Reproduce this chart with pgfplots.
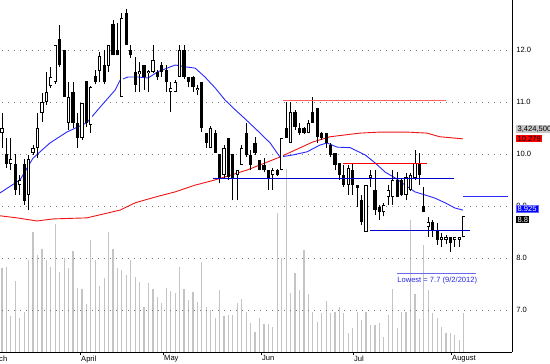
\documentclass[border=0pt]{standalone}
\usepackage{pgfplots}
\pgfplotsset{compat=1.18}
\usepackage{pgfplotstable}
\usepackage{fontspec}
\setmainfont{Liberation Sans}

\definecolor{volgray}{RGB}{196,196,196}
\definecolor{mablue}{RGB}{40,40,255}
\definecolor{mared}{RGB}{240,20,20}
\definecolor{hlred}{RGB}{255,95,95}
\definecolor{hlblue}{RGB}{0,0,205}
\definecolor{lowblue}{RGB}{40,40,230}
\definecolor{gridgray}{RGB}{120,120,120}

% up (hollow) candles: index, open, high, low, close
\pgfplotstableread{
i O H L C
0 10.40 10.79 10.11 10.50
2 9.81 10.31 9.69 9.90
4 9.40 9.59 9.21 9.50
6 9.21 9.98 8.92 9.90
7 10.02 10.17 9.98 10.11
8 10.11 10.79 9.92 10.50
9 10.79 11.17 10.61 11.00
10 11.00 11.58 10.94 11.19
11 11.31 11.67 11.27 11.48
12 11.38 12.10 11.34 12.10
15 10.60 11.38 10.46 11.10
18 10.31 10.98 10.27 10.98
20 10.56 11.31 10.40 11.29
22 11.60 11.96 11.38 11.88
24 11.69 12.10 11.58 12.10
27 11.10 12.71 11.10 12.61
31 11.53 11.77 11.19 11.59
33 11.55 11.61 11.19 11.60
34 11.58 12.10 11.56 11.81
38 11.19 11.38 10.81 11.27
39 11.19 11.42 11.19 11.38
40 11.48 12.10 11.48 12.00
44 11.22 11.33 11.13 11.27
47 10.11 10.54 10.11 10.50
50 9.60 10.17 9.54 10.11
53 9.60 9.69 9.11 9.69
54 9.79 10.17 9.79 10.11
61 9.60 9.73 9.31 9.69
63 9.69 10.31 9.69 10.31
65 10.21 11.00 10.21 10.81
69 10.40 10.65 10.40 10.60
78 9.40 9.79 9.21 9.73
82 8.50 9.40 8.50 9.40
83 9.54 9.69 9.36 9.60
86 8.88 9.06 8.80 9.02
87 9.17 9.40 9.02 9.31
88 9.17 9.69 9.02 9.50
91 9.21 9.63 9.11 9.56
92 9.31 9.63 9.29 9.60
93 9.54 10.08 9.50 9.83
96 8.60 8.79 8.40 8.69
99 8.34 8.48 8.21 8.40
100 8.34 8.44 8.27 8.40
102 8.34 8.40 8.21 8.40
103 8.34 8.40 8.21 8.40
104 8.40 8.81 8.40 8.81
}\upcandles

% down (filled) candles: index, open, high, low, close
\pgfplotstableread{
i O H L C
1 10.00 10.31 9.73 9.81
3 9.81 10.00 9.21 9.31
5 9.81 9.90 9.02 9.10
13 12.21 12.48 11.67 11.71
14 12.00 12.00 11.10 11.10
16 11.19 11.38 10.50 10.60
17 10.60 10.79 10.11 10.31
19 11.40 11.40 10.52 10.60
21 11.50 11.61 11.34 11.38
23 11.71 12.00 11.34 11.38
25 12.50 12.58 11.90 11.90
26 12.00 12.52 11.90 11.90
28 12.71 12.79 12.10 12.10
29 12.00 12.10 11.85 11.90
30 11.58 11.86 11.19 11.33
32 11.71 11.71 11.23 11.48
35 11.58 11.61 11.42 11.48
36 11.71 11.77 11.48 11.58
37 11.61 11.71 11.19 11.38
41 12.00 12.10 11.45 11.48
42 11.48 11.48 11.29 11.38
43 11.48 11.50 11.19 11.29
45 11.38 11.38 10.42 10.50
46 10.40 10.40 10.11 10.21
48 10.40 10.46 10.02 10.02
49 10.00 10.00 9.44 9.54
51 10.31 10.31 9.50 9.56
52 10.00 10.00 9.11 9.54
55 10.40 10.60 9.94 9.98
56 9.98 10.08 9.69 9.79
57 10.21 10.33 9.98 10.02
58 9.88 9.88 9.69 9.69
59 9.79 9.92 9.65 9.69
60 9.69 9.69 9.31 9.52
62 9.69 9.71 9.58 9.60
64 10.50 11.00 10.31 10.31
66 10.81 10.85 10.46 10.52
67 10.50 10.60 10.36 10.40
68 10.50 10.52 10.38 10.40
70 10.81 11.10 10.60 10.60
71 10.88 10.88 10.21 10.33
72 10.40 10.42 10.27 10.31
73 10.40 10.40 10.11 10.21
74 10.17 10.21 9.94 9.98
75 10.02 10.02 9.69 9.79
76 9.83 9.83 9.50 9.60
77 9.60 9.79 9.36 9.40
79 9.69 9.83 9.21 9.40
80 9.40 9.40 8.98 9.35
81 9.11 9.21 8.63 8.69
84 9.31 9.69 8.83 8.92
85 8.98 9.02 8.73 8.88
89 9.50 9.65 9.17 9.17
90 9.50 9.52 9.19 9.21
94 9.83 10.02 9.40 9.60
95 9.00 9.36 8.88 8.88
97 8.69 8.73 8.40 8.54
98 8.54 8.67 8.25 8.35
101 8.40 8.40 8.11 8.29
}\downcandles

% volume (thousands)
\pgfplotstableread{
i V
0 7392
1 7480
2 3168
3 6248
4 2992
5 3520
6 8096
7 10560
8 8536
9 9064
10 8096
11 7480
12 11264
13 7040
14 8272
15 7392
16 8888
17 5632
18 5544
19 4224
20 9856
21 8096
22 5808
23 6512
24 10560
25 9064
26 7392
27 7216
28 6776
29 8096
30 6600
31 6160
32 3960
33 6072
34 5544
35 4840
36 4312
37 5632
38 5368
39 5192
40 7480
41 5544
42 4576
43 5280
44 4400
45 7920
46 3960
47 3696
48 2992
49 5456
50 3168
51 3256
52 3256
53 4312
54 4664
55 3520
56 2552
57 1760
58 2992
59 2464
60 2464
61 2200
62 12232
63 8272
64 16104
65 5192
66 6952
67 5456
68 8976
69 5104
70 3520
71 2640
72 3432
73 4488
74 3432
75 3520
76 3960
77 3432
78 1672
79 2112
80 3520
81 2816
82 3520
83 2376
84 2376
85 2552
86 1320
87 3256
88 5544
89 2112
90 3520
91 3520
92 11616
93 5104
94 2904
95 9416
96 5456
97 3432
98 2992
99 2200
100 1672
101 1672
102 1496
103 1056
104 3432
}\volume

\pgfplotstableread{
i M
-0.45 9.25
4.05 9.50
7.0 9.92
10.8 10.21
14.6 10.42
19.1 10.60
22.1 10.90
25.5 11.23
26.6 11.42
28.4 11.48
30.6 11.48
32.9 11.46
35.1 11.58
39.0 11.71
41.7 11.67
43.5 11.65
45.7 11.48
48.0 11.27
50.2 11.04
52.5 10.85
54.3 10.71
57.4 10.46
60.4 10.21
62.6 9.94
65.5 9.98
68.7 10.04
71.6 10.17
73.2 10.21
75.5 10.13
78.4 10.12
81.8 9.98
84.0 9.83
86.3 9.65
88.5 9.54
90.8 9.40
93.0 9.27
95.3 9.21
97.5 9.15
99.8 9.06
102.0 8.96
103.8 8.92
}\mafast

\pgfplotstableread{
i M
-0.45 8.81
3.4 8.77
7.9 8.71
11.5 8.75
19.1 8.77
22.1 8.83
26.6 8.92
30.0 9.06
34.5 9.17
39.0 9.27
43.5 9.40
48.0 9.50
55.2 9.69
62.6 9.94
70.0 10.23
73.9 10.33
80.6 10.40
85.1 10.42
91.2 10.42
95.7 10.40
98.6 10.33
103.8 10.29
}\maslow

\newcommand{\lblfont}{\fontsize{7.6}{8}\selectfont}
\pgfplotsset{candle/.style={only marks, mark=*, mark size=0pt, mark options={draw=none, fill=none},
  error bars/.cd, y dir=plus, y explicit, error mark=none}}

\begin{document}
\begin{tikzpicture}
% volume panel
\begin{axis}[
  at={(0,0)}, anchor=south west,
  scale only axis, width=545.68bp, height=369.72bp,
  xmin=-8, xmax=114.9, ymin=0, ymax=32535,
  hide axis,
]
\addplot[ycomb, volgray, line width=1.2bp] table[x=i, y=V] {\volume};
\end{axis}
% price panel
\begin{axis}[
  at={(0,0)}, anchor=south west,
  scale only axis, width=545.68bp, height=369.72bp,
  xmin=-8, xmax=114.9, ymin=6.19, ymax=13.3,
  clip=false,
  axis x line*=bottom, axis y line*=right,
  axis line style={black, line width=1bp},
  ytick={7,8,9,10,11,12,13},
  ymajorgrids,
  major grid style={gridgray, line width=0.8bp, dash pattern=on 0.9bp off 5.1bp},
  ytick style={draw=none},
  xtick={-3.83,17.57,36.26,58.33,79.05,101.13},
  xticklabels={March,April,May,Jun,Jul,August},
  xtick style={black, line width=0.8bp},
  tick align=outside, major tick length=3bp,
  /pgf/number format/assume math mode=true,
  yticklabel style={/pgf/number format/fixed, /pgf/number format/fixed zerofill, /pgf/number format/precision=1, font=\lblfont, inner sep=0pt, xshift=1bp},
  xticklabel style={font=\lblfont, anchor=north west, inner sep=0pt, xshift=1bp, yshift=-0.5bp},
]
% moving averages
\addplot[mared, line width=0.9bp] table[x=i, y=M] {\maslow};
\addplot[mablue, line width=0.9bp] table[x=i, y=M] {\mafast};
% wicks
\addplot[candle, error bar style={black, line width=0.8bp}]
  table[x=i, y=L, y error plus expr=\thisrow{H}-\thisrow{L}] {\upcandles};
\addplot[candle, error bar style={black, line width=0.8bp}]
  table[x=i, y=L, y error plus expr=\thisrow{H}-\thisrow{L}] {\downcandles};
% filled bodies
\addplot[candle, error bar style={black, line width=3.2bp}]
  table[x=i, y=C, y error plus expr=\thisrow{O}-\thisrow{C}] {\downcandles};
% hollow bodies
\addplot[candle, error bar style={black, line width=3.2bp}]
  table[x=i, y=O, y error plus expr=\thisrow{C}-\thisrow{O}] {\upcandles};
\addplot[candle, error bar style={white, line width=1.6bp, shorten <=0.8bp, shorten >=0.8bp}]
  table[x=i, y=O, y error plus expr=\thisrow{C}-\thisrow{O}] {\upcandles};
% horizontal lines
\addplot[hlred, line width=1.2bp] coordinates {(63.3,11.03) (100.0,11.03)};
\addplot[red, line width=1.0bp] coordinates {(76.8,9.81) (95.7,9.81)};
\addplot[hlblue, line width=1.0bp] coordinates {(47.5,9.52) (101.8,9.52)};
\addplot[hlblue, line width=1.0bp] coordinates {(82.9,8.52) (105.4,8.52)};
\addplot[mablue, line width=1.0bp] coordinates {(103.8,9.19) (114.0,9.19)};
\addplot[lowblue!70, line width=1.0bp] coordinates {(89.0,7.70) (106.8,7.70)};
\node[anchor=west, inner sep=0pt, text=lowblue, font=\lblfont] at (axis cs:89.0,7.57) {Lowest = 7.7 (9/2/2012)};
\coordinate (TL) at (axis cs:-0.45,12.96);
\coordinate (LV) at (axis cs:114.9,10.48);
\coordinate (LR) at (axis cs:114.9,10.29);
\coordinate (LB) at (axis cs:114.9,8.94);
\coordinate (LK) at (axis cs:114.9,8.73);
\end{axis}
\node[anchor=west, fill=black!22, inner xsep=1.2bp, inner ysep=0.8bp, font=\lblfont] at ([xshift=4bp]LV) {3,424,500};
\node[anchor=west, fill=red, inner xsep=1.2bp, inner ysep=0.8bp, font=\lblfont] at ([xshift=4bp]LR) {10.279};
\node[anchor=west, fill=blue, draw=blue!60, text=white, inner xsep=1.2bp, inner ysep=0.8bp, font=\lblfont] at ([xshift=4bp]LB) {8.925};
\node[anchor=west, fill=black, text=white, inner xsep=1.2bp, inner ysep=0.8bp, font=\lblfont] at ([xshift=4bp]LK) {8.8};
\pgfresetboundingbox
\useasboundingbox (TL) rectangle ++(550bp,-364bp);
\end{tikzpicture}
\end{document}
